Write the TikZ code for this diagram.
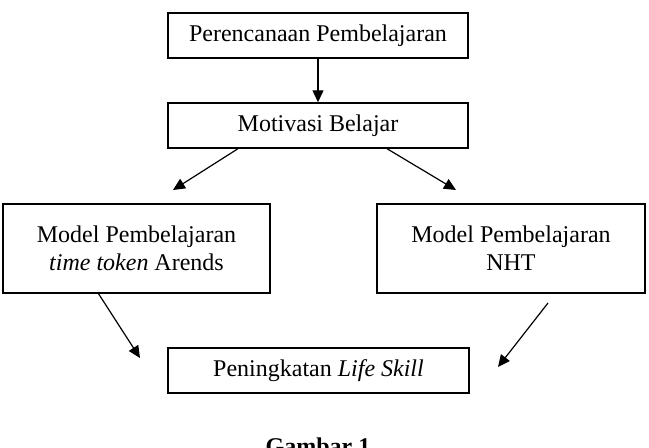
\documentclass[tikz,border=0pt]{standalone}
\usepackage{fontspec}
\setmainfont{Liberation Serif}
\usetikzlibrary{arrows.meta,positioning,calc}

\begin{document}
\begin{tikzpicture}[
    x=0.5pt, y=-0.5pt,
    font=\fontsize{12}{14}\selectfont,
    box/.style={draw, line width=0.7pt, rectangle, inner sep=2pt, align=center},
    arrow/.style={-{Triangle[length=6pt,width=5.5pt]}, line width=0.6pt}
  ]
    \useasboundingbox (0,0) rectangle (649,448);
    \node[box, minimum width=150pt, minimum height=22.5pt] (perencanaan) at (318,35.5) {Perencanaan Pembelajaran};
    \node[box, minimum width=150pt, minimum height=22.5pt] (motivasi) at (318,125.5) {Motivasi Belajar};
    \node[box, minimum width=133.5pt, minimum height=44.5pt] (modeltt) at (136.5,248.5)
      {Model Pembelajaran\\\textit{time token} Arends};
    \node[box, minimum width=134pt, minimum height=44.5pt] (modelnht) at (511,248.5)
      {Model Pembelajaran\\NHT};
    \node[box, minimum width=150.5pt, minimum height=22.5pt] (lifeskill) at (318.5,370.5)
      {Peningkatan \textit{Life Skill}};
    \node[font=\fontsize{12}{14}\selectfont\bfseries, anchor=base] (gambar) at (318,455) {Gambar 1};
    % free ends of the connectors
    \coordinate (tipA) at (173,190);
    \coordinate (tipB) at (456,190);
    \coordinate (tipC) at (140,358);
    \coordinate (tipD) at (498,367);
    \coordinate (startD) at (548,303);
    \draw[arrow] (perencanaan) -- (motivasi);
    \draw[arrow] ([xshift=-40pt]motivasi.south) -- (tipA);
    \draw[arrow] ([xshift=34.5pt]motivasi.south) -- (tipB);
    \draw[arrow] ([xshift=-19pt]modeltt.south) -- (tipC);
    \draw[arrow] (startD) -- (tipD);
  \end{tikzpicture}
\end{document}
